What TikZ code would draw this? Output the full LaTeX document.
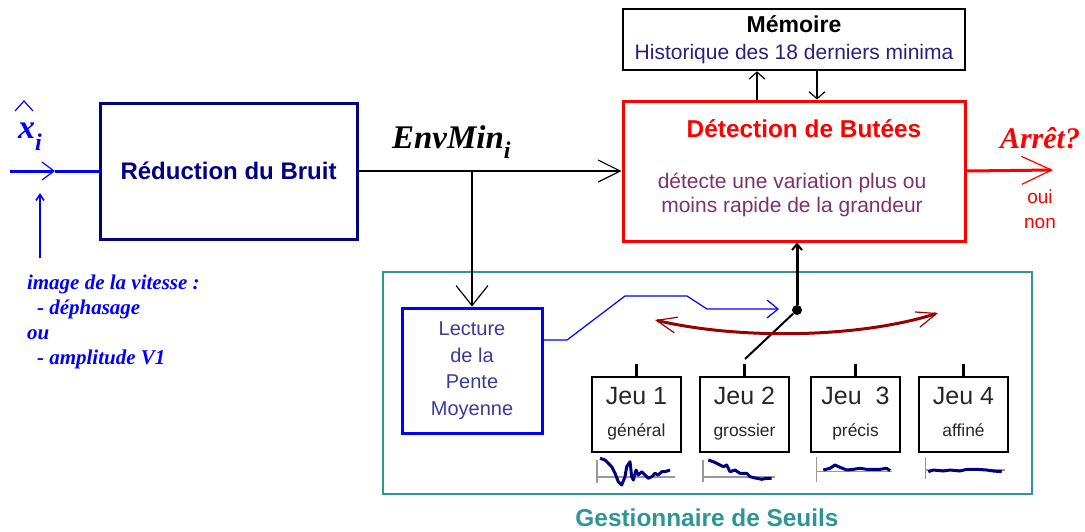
\documentclass[tikz,border=0pt]{standalone}
\usepackage{fontspec}
\setmainfont{Liberation Sans}
\newfontfamily\timesfont{Liberation Serif}
\usepackage{tikz}
\usetikzlibrary{positioning,arrows.meta,calc}
\definecolor{SigNavy}{HTML}{000080}
\definecolor{SigBlue}{HTML}{0000FF}
\definecolor{SigRed}{HTML}{FF0000}
\definecolor{SigTeal}{HTML}{2E9494}
\definecolor{SigMaroon}{HTML}{990000}
\definecolor{SigPurple}{HTML}{80306A}
\definecolor{SigSlate}{HTML}{3A3A99}
\definecolor{SigInk}{HTML}{2A1F7A}
\definecolor{SigGray}{HTML}{999999}
\tikzset{
  navybox/.style={draw=SigNavy,line width=1.5pt,minimum width=128.5pt,minimum height=68pt,inner sep=0pt,text=SigNavy,font=\fontsize{12}{14}\selectfont\bfseries},
  redbox/.style={draw=SigRed,line width=1.5pt,minimum width=171pt,minimum height=70pt,inner sep=0pt},
  memobox/.style={draw=black,line width=1.3pt,minimum width=171pt,minimum height=30.5pt,inner sep=0pt,align=center,font=\fontsize{10.5}{13.5}\selectfont},
  bluebox/.style={draw=SigBlue,line width=1.5pt,minimum width=70pt,minimum height=62.5pt,inner sep=0pt,align=center,text=SigSlate,font=\fontsize{10}{13.3}\selectfont},
  gestbox/.style={draw=SigTeal,line width=0.8pt,minimum width=324.5pt,minimum height=111pt,inner sep=0pt},
  jeubox/.style={draw=black,line width=1pt,minimum width=44.5pt,minimum height=37.5pt,inner sep=0pt,align=center,text=black!85,font=\fontsize{12.5}{13}\selectfont},
  arr/.style={line width=1.2pt,-{Straight Barb[length=11pt,width=11pt,line width=0.6pt]}},
  arrdown/.style={line width=1.2pt,-{Straight Barb[length=10pt,width=16pt,line width=0.6pt]}},
  memoarr/.style={line width=1.2pt,-{Straight Barb[length=3.5pt,width=8pt,line width=0.6pt]}},
  switcharr/.style={line width=1.5pt,-{Straight Barb[length=3pt,width=5pt,line width=1pt]}},
  bluearr/.style={draw=SigBlue,line width=1.5pt,-{Straight Barb[length=6pt,width=9pt,line width=0.6pt]}},
  blueline/.style={draw=SigBlue,line width=1.5pt},
  bluethin/.style={draw=SigBlue,line width=0.6pt,-{Straight Barb[length=5.5pt,width=9pt,line width=0.6pt]}},
  notearr/.style={draw=SigBlue,line width=0.8pt,-{Straight Barb[length=3pt,width=4pt,line width=0.8pt]}},
  redarr/.style={draw=SigRed,line width=1.5pt,-{Straight Barb[length=15pt,width=14pt,line width=0.6pt]}},
  swingarr/.style={draw=SigMaroon,line width=1.5pt,{Straight Barb[length=10pt,width=8pt,line width=0.6pt]}-{Straight Barb[length=10pt,width=8pt,line width=0.6pt]}},
  hatline/.style={draw=SigBlue,line width=0.6pt},
  chartaxis/.style={draw=SigGray,line width=0.6pt},
  chartline/.style={draw=SigNavy,line width=1.5pt,line join=round}
}
\begin{document}
\begin{tikzpicture}[x=0.5pt,y=-0.5pt]
\useasboundingbox (0,0) rectangle (1085,531);
% gestionnaire de seuils
\node[gestbox] (gest) at (707.5,383) {};
\node[text=SigTeal,font=\fontsize{12.2}{14}\selectfont\bfseries] (gestlabel) at (707,518) {Gestionnaire de Seuils};
% blocs principaux
\node[navybox] (reduc) at (228.5,171) {Réduction du Bruit};
\node[redbox] (detect) at (794,171) {};
\node[text=SigRed,font=\fontsize{12.2}{14}\selectfont\bfseries] (detecttitle) at (804,129) {Détection de Butées};
\node[align=center,text=SigPurple,font=\fontsize{10.5}{12}\selectfont] (detectbody) at (792,195) {détecte une variation plus ou\\moins rapide de la grandeur};
\node[memobox] (memo) at (794,39.5) {{\fontsize{11.5}{13}\selectfont\bfseries Mémoire}\\{\color{SigInk}Historique des 18 derniers minima}};
\node[bluebox] (lecture) at (472,370.5) {Lecture\\de la\\Pente\\Moyenne};
% jeux de seuils
\foreach \n/\jx/\jname/\sub in {1/636.5/Jeu 1/général,2/744.5/Jeu 2/grossier,3/855.5/Jeu\ \ 3/précis,4/963.5/Jeu 4/affiné} {
  \node[jeubox] (jeu\n) at (\jx,414.5) {\jname\\[3pt]{\fontsize{8.7}{10}\selectfont\strut\sub}};
  \draw[line width=1.5pt] (jeu\n.north) -- ++(0,-12);
}
% entree
\coordinate (in) at (10,171);
\coordinate (inmid) at (55,171);
\draw[bluearr] (in) -- (inmid);
\draw[blueline] (inmid) -- (reduc.west);
\node[text=SigBlue,font=\timesfont\bfseries\itshape\fontsize{17}{17}\selectfont] (xhat) at (30,137) {x\raisebox{-6pt}{\fontsize{12}{12}\selectfont i}};
\draw[hatline] (15,111) -- (24,101) -- (33,111);
\coordinate (notetail) at (40,258);
\coordinate (notehead) at (40,193);
\draw[notearr] (notetail) -- (notehead);
\node[anchor=north west,align=left,text=SigBlue,font=\timesfont\bfseries\itshape\fontsize{10.5}{12.5}\selectfont] (note) at (20,268) {image de la vitesse :\\\hspace*{5pt}- déphasage\\ou\\\hspace*{5pt}- amplitude V1};
% EnvMin
\coordinate (branch) at (472,171);
\draw[line width=1.2pt] (reduc.east) -- (branch);
\draw[arr] (branch) -- (detect.west);
\draw[arrdown] (branch) -- (lecture.north);
\node[anchor=base west,font=\timesfont\bfseries\itshape\fontsize{16.5}{16.5}\selectfont] (envmin) at (385,148) {EnvMin\raisebox{-5pt}{\fontsize{12}{12}\selectfont i}};
% memoire
\draw[memoarr] ([xshift=-18.5pt]detect.north) -- ([xshift=-18.5pt]memo.south);
\draw[memoarr] ([xshift=11.5pt]memo.south) -- ([xshift=11.5pt]detect.north);
% sortie
\coordinate (outend) at (1053,170);
\draw[redarr] (detect.east) -- (outend);
\node[text=SigRed,font=\timesfont\bfseries\itshape\fontsize{15}{15}\selectfont] (arret) at (1040,138) {Arrêt?};
\node[text=SigRed,align=center,font=\fontsize{9.5}{12.5}\selectfont] (ouinon) at (1040,209) {oui\\non};
% commutateur
\node[circle,fill=black,inner sep=0pt,minimum size=5pt] (pivot) at (797,310) {};
\draw[switcharr] (pivot) -- (pivot |- detect.south);
\coordinate (swend) at (745,359);
\draw[line width=1pt] (pivot) -- (swend);
\coordinate (bluetip) at (779,309);
\draw[bluethin] ([yshift=15.25pt]lecture.east) -- (567,340) -- (625,296) -- (687,296) -- (707,309) -- (bluetip);
\coordinate (swingl) at (655,320);
\coordinate (swingr) at (938,313);
\draw[swingarr] (swingl) .. controls (740,340) and (860,338) .. (swingr);
% courbes
\draw[chartaxis] (597,460) -- (597,483) (597,477) -- (675,477);
\draw[chartline] plot coordinates {(600,458.3) (605,460) (611.7,466.7) (615,473.3) (618.3,481.7) (621.7,485) (625,476.7) (626.7,466.7) (630,461.7) (631.7,476.7) (633.3,480) (636,470) (638.3,475) (641.7,471.7) (645,475) (648.3,478.3) (651.7,476.7) (655,473.3) (658.3,475) (661.7,471.7) (665,471.7) (670,470)};
\draw[chartaxis] (703,460) -- (703,482) (703,477) -- (775,477);
\draw[chartline] plot coordinates {(708.3,460) (713.3,461.7) (720,465) (723.3,466.7) (726.7,465) (730,471.7) (735,470) (740,473.3) (746.7,473.3) (750,476.7) (756.7,478.3) (761.7,479.3) (766.7,478.3) (771.7,478.3)};
\draw[chartaxis] (816.7,456.7) -- (816.7,481.7) (816.7,471.7) -- (891.7,471.7);
\draw[chartline] plot coordinates {(823.3,470) (830,468.3) (835,465) (840,467.3) (846.7,470) (853.3,469.3) (860,468.3) (866.7,469.3) (873.3,469.3) (880,469.3) (886.7,468.3) (890,470.7)};
\draw[chartaxis] (925.7,456.7) -- (925.7,479.3) (925.7,470) -- (1005,470);
\draw[chartline] plot coordinates {(928.3,471.7) (933.3,470) (943.3,471) (950,470) (960,471) (966.7,469.3) (976.7,469.3) (986.7,470) (993.3,471) (1001.7,471.7)};
\end{tikzpicture}
\end{document}
